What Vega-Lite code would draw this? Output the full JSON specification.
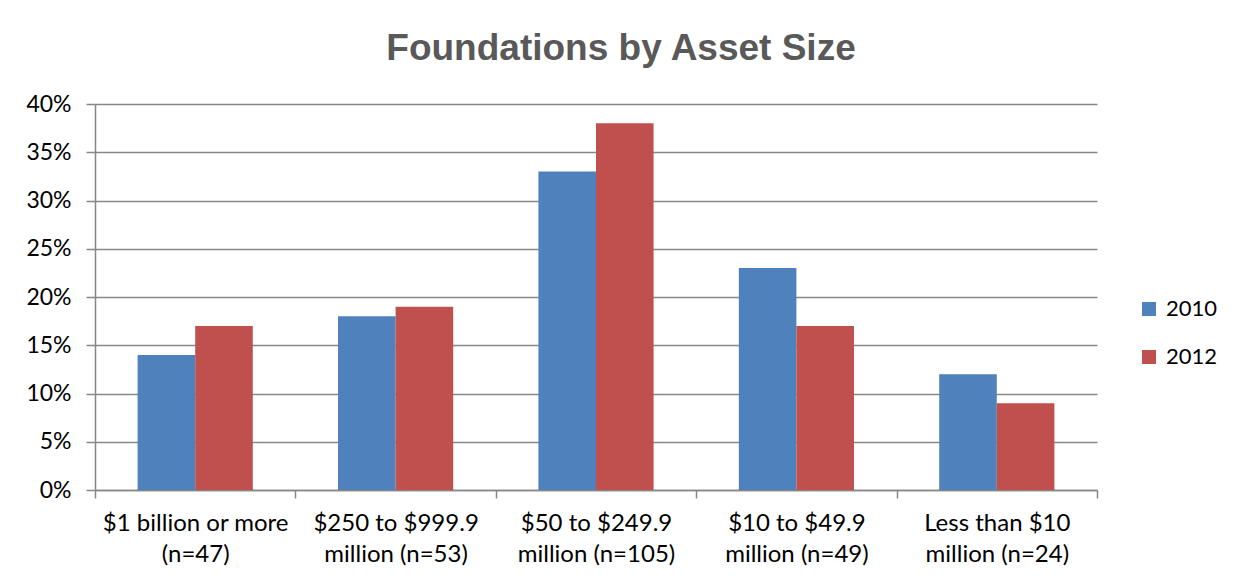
{
  "$schema": "https://vega.github.io/schema/vega-lite/v6.json",
  "autosize": "none",
  "width": 1002,
  "height": 386,
  "padding": {"left": 95, "top": 104, "right": 139, "bottom": 96},
  "background": "white",
  "title": {
    "text": "Foundations by Asset Size",
    "font": "Liberation Sans",
    "fontSize": 37,
    "fontWeight": "bold",
    "color": "#595959",
    "anchor": "middle",
    "dx": 25,
    "offset": 25
  },
  "data": {
    "values": [
      {"category": "$1 billion or more|(n=47)", "year": "2010", "share": 0.14},
      {"category": "$1 billion or more|(n=47)", "year": "2012", "share": 0.17},
      {"category": "$250 to $999.9|million (n=53)", "year": "2010", "share": 0.18},
      {"category": "$250 to $999.9|million (n=53)", "year": "2012", "share": 0.19},
      {"category": "$50 to $249.9|million (n=105)", "year": "2010", "share": 0.33},
      {"category": "$50 to $249.9|million (n=105)", "year": "2012", "share": 0.38},
      {"category": "$10 to $49.9|million (n=49)", "year": "2010", "share": 0.23},
      {"category": "$10 to $49.9|million (n=49)", "year": "2012", "share": 0.17},
      {"category": "Less than $10|million (n=24)", "year": "2010", "share": 0.12},
      {"category": "Less than $10|million (n=24)", "year": "2012", "share": 0.09}
    ]
  },
  "mark": {"type": "bar"},
  "encoding": {
    "x": {
      "field": "category",
      "type": "nominal",
      "sort": null,
      "scale": {"paddingInner": 0, "paddingOuter": 0},
      "axis": {
        "title": null,
        "labelAngle": 0,
        "labelExpr": "split(datum.label, '|')",
        "labelFont": "Lato",
        "labelFontSize": 24,
        "labelColor": "#000000",
        "labelLineHeight": 31,
        "labelPadding": 13,
        "labelLimit": 0,
        "tickBand": "extent",
        "tickSize": 8,
        "tickColor": "#878787",
        "tickWidth": 1.5,
        "domainColor": "#878787",
        "domainWidth": 1.5,
        "grid": false
      }
    },
    "xOffset": {"field": "year", "type": "nominal", "scale": {"paddingInner": 0, "paddingOuter": 0.74}},
    "y": {
      "field": "share",
      "type": "quantitative",
      "scale": {"domain": [0, 0.4], "nice": false},
      "axis": {
        "title": null,
        "values": [0, 0.05, 0.1, 0.15, 0.2, 0.25, 0.3, 0.35, 0.4],
        "format": ".0%",
        "labelFont": "Lato",
        "labelFontSize": 23,
        "labelColor": "#000000",
        "labelPadding": 15,
        "tickSize": 9,
        "tickColor": "#878787",
        "tickWidth": 1.5,
        "domainColor": "#878787",
        "domainWidth": 1.5,
        "gridColor": "#878787",
        "gridWidth": 1.5
      }
    },
    "color": {
      "field": "year",
      "type": "nominal",
      "scale": {"domain": ["2010", "2012"], "range": ["#4F81BD", "#C0504D"]},
      "legend": {
        "title": null,
        "orient": "none",
        "legendX": 1043,
        "legendY": 194,
        "symbolType": "square",
        "symbolSize": 196,
        "symbolStrokeWidth": 0,
        "labelFont": "Lato",
        "labelFontSize": 22,
        "labelColor": "#000000",
        "labelOffset": 6,
        "rowPadding": 26
      }
    }
  },
  "config": {
    "view": {"stroke": null}
  }
}
